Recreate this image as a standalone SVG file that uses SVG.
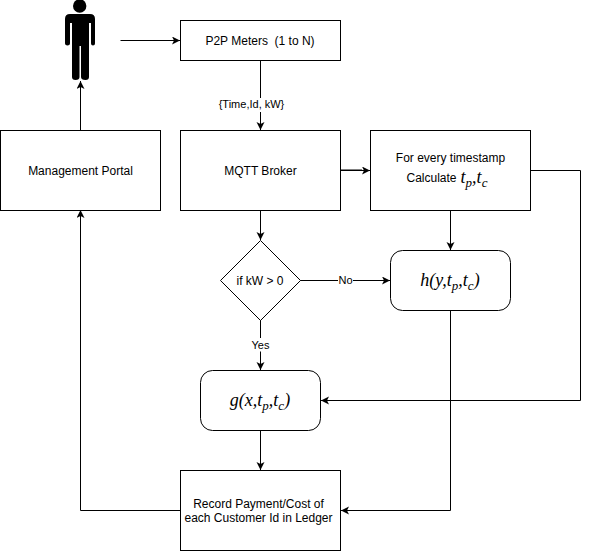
<svg xmlns="http://www.w3.org/2000/svg" width="589" height="551" viewBox="0 0 589 551">
<defs>
<marker id="arrow" markerUnits="userSpaceOnUse" markerWidth="10" markerHeight="10" refX="8" refY="4" orient="auto"><path d="M0 0L8 4L0 8L2 4Z" fill="#000"/></marker>
</defs>
<style>
.n{fill:#fff;stroke:#000;stroke-width:1}
.c{fill:none;stroke:#000;stroke-width:1;marker-end:url(#arrow)}
.p{fill:none;stroke:#000;stroke-width:1}
text{font-family:"Liberation Sans",Arial,sans-serif;font-size:12px;fill:#000;text-anchor:middle}
.m{font-family:"Liberation Serif","Times New Roman",serif;font-style:italic;font-size:18px}
.l{font-size:11px}
</style>
<rect width="589" height="551" fill="#fff"/>
<g id="connectors">
<path class="c" d="M120.500 40.500H180"/>
<path class="c" d="M260.500 60.500V130"/>
<path class="c" d="M80.500 130V81"/>
<path class="c" d="M260.500 210V240"/>
<path class="c" d="M300 280.500H390"/>
<path class="c" d="M260.500 320V370"/>
<path class="c" d="M260.500 430V470"/>
<path class="c" d="M450.500 210V250"/>
<path class="c" d="M340 170.500H370"/>
<path class="p" d="M340 170H362"/>
<path class="c" d="M450.500 310V510.500H341"/>
<path class="c" d="M180 510.500H80.500V210"/>
<path class="c" d="M530 170.500H580.500V400.500H321"/>
</g>
<g id="person">
<circle cx="79.700" cy="6" r="6.700" fill="#000"/>
<path fill="#000" d="M70 14H90Q95 14 95 19V43.500Q95 45.500 93 45.500Q91 45.500 91 43.500V23H89V77Q89 80 85.500 80Q81 80 81 77V46H79.500V77Q79.500 80 75.500 80Q72 80 72 77V23H70V43.500Q70 45.500 67.500 45.500Q65 45.500 65 43.500V19Q65 14 70 14Z"/>
</g>
<g id="meters"><rect class="n" x="180.500" y="20.500" width="160" height="40"/><text x="260" y="44.500" xml:space="preserve">P2P Meters  (1 to N)</text></g>
<g id="portal"><rect class="n" x="0.500" y="130.500" width="160" height="80"/><text x="80.500" y="174.500">Management Portal</text></g>
<g id="broker"><rect class="n" x="180.500" y="130.500" width="160" height="80"/><text x="260.500" y="174.500">MQTT Broker</text></g>
<g id="calc"><rect class="n" x="370.500" y="130.500" width="160" height="80"/><text x="450.500" y="162">For every timestamp</text>
<text x="431.500" y="182">Calculate</text><text x="474" y="183" class="m">t<tspan font-size="13" dy="4">p</tspan><tspan dy="-4">,t</tspan><tspan font-size="13" dy="4">c</tspan></text></g>
<g id="decision"><path class="n" d="M260.500 240.500L300.500 280.500L260.500 320.500L220.500 280.500Z"/><text x="260" y="285">if kW &gt; 0</text></g>
<g id="h"><rect class="n" x="390.500" y="250.500" width="120" height="60" rx="12"/><text x="450" y="286" class="m">h(y,t<tspan font-size="13" dy="4">p</tspan><tspan dy="-4">,t</tspan><tspan font-size="13" dy="4">c</tspan><tspan dy="-4">)</tspan></text></g>
<g id="g"><rect class="n" x="200.500" y="370.500" width="120" height="60" rx="12"/><text x="260" y="406" class="m">g(x,t<tspan font-size="13" dy="4">p</tspan><tspan dy="-4">,t</tspan><tspan font-size="13" dy="4">c</tspan><tspan dy="-4">)</tspan></text></g>
<g id="ledger"><rect class="n" x="180.500" y="470.500" width="160" height="80"/><text x="258.500" y="507.500">Record Payment/Cost of</text><text x="258.500" y="521.500">each Customer Id in Ledger</text></g>
<g id="labels">
<rect x="218" y="98" width="67" height="14" fill="#fff"/><text class="l" x="251.500" y="108">{Time,Id, kW}</text>
<rect x="338" y="274" width="15" height="13" fill="#fff"/><text class="l" x="345.500" y="284">No</text>
<rect x="251" y="338" width="19" height="13.500" fill="#fff"/><text class="l" x="260.500" y="349">Yes</text>
</g>
</svg>
